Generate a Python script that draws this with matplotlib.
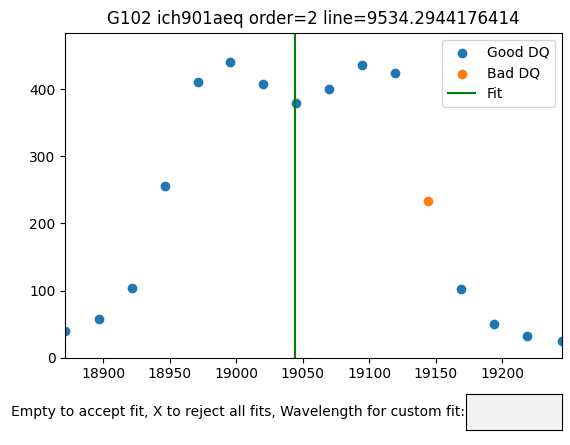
import matplotlib
matplotlib.use("Agg")
import matplotlib.pyplot as plt
from matplotlib.widgets import TextBox

good_x = [18871.4, 18897.0, 18921.8, 18946.4, 18971.4, 18995.3, 19020.3, 19044.9,
          19069.9, 19094.7, 19119.3, 19168.9, 19194.0, 19218.8, 19244.7]
good_y = [39.5, 57.0, 104.5, 256.0, 410.6, 440.3, 407.6, 379.3,
          400.0, 435.8, 423.9, 103.0, 49.5, 32.1, 24.2]
bad_x = [19144.4]
bad_y = [233.7]
fit_x = 19044.1
title = "G102 ich901aeq order=2 line=9534.2944176414"
prompt = "Empty to accept fit, X to reject all fits, Wavelength for custom fit:"

fig = plt.figure(figsize=(5.7, 4.45), dpi=100)
ax = fig.add_axes([0.1146, 0.1964, 0.8708, 0.7301])
ax.scatter(good_x, good_y, label="Good DQ")
ax.scatter(bad_x, bad_y, label="Bad DQ")
ax.axvline(fit_x, color="green", label="Fit")
all_x = good_x + bad_x
all_y = good_y + bad_y
ax.set_xlim(min(all_x), max(all_x))
ax.set_ylim(0, max(all_y) * 1.1)
ax.set_title(title)
ax.legend(loc="upper right")

tax = fig.add_axes([0.817, 0.0337, 0.1684, 0.0802])
tb = TextBox(tax, prompt)

fig.savefig("out.png", dpi=100)
